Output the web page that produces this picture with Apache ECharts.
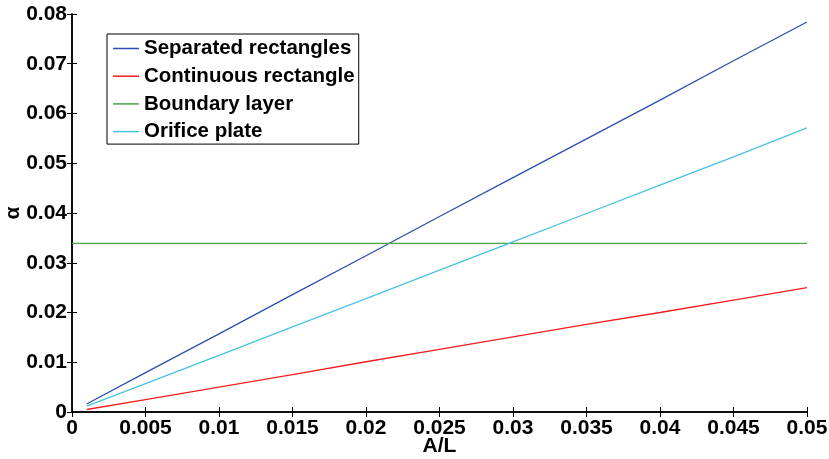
<!DOCTYPE html>
<html><head><meta charset="utf-8">
<script src="https://cdn.jsdelivr.net/npm/echarts@6/dist/echarts.min.js"></script>
<style>html,body{margin:0;padding:0;background:#fff}#c{width:829px;height:459px}</style>
</head><body><div id="c"></div>
<script>
const xVals = [0.001, 0.005, 0.01, 0.015, 0.02, 0.025, 0.03, 0.035, 0.04, 0.045, 0.05];
const separated = [0.0016, 0.0079, 0.0157, 0.0236, 0.0314, 0.0393, 0.0471, 0.0549, 0.0627, 0.0706, 0.0784];
const continuous = [0.0005, 0.0025, 0.0050, 0.0075, 0.0101, 0.0126, 0.0151, 0.0176, 0.0200, 0.0225, 0.0250];
const boundaryX = [0, 0.05];
const boundary = [0.0339, 0.0339];
const orifice = [0.0012, 0.0057, 0.0114, 0.0171, 0.0228, 0.0285, 0.0342, 0.0399, 0.0456, 0.0513, 0.0571];
const seriesNames = ['Separated rectangles', 'Continuous rectangle', 'Boundary layer', 'Orifice plate'];
const colors = ['#2e4fae', '#f21d1d', '#4aa54a', '#46c3df'];

const pair = (xs, ys) => xs.map((x, i) => [x, ys[i]]);
const font = 'Liberation Sans, Arial, sans-serif';
const lbl = {fontFamily: font, fontWeight: 'bold', fontSize: 21, color: '#000'};
const axLine = {show: true, lineStyle: {color: '#000', width: 1.5}};
const tick = {show: true, inside: true, length: 5, lineStyle: {color: '#000', width: 1}};

const chart = echarts.init(document.getElementById('c'), null, {renderer: 'canvas'});
chart.setOption({
  animation: false,
  backgroundColor: '#fff',
  grid: {left: 72, right: 22, top: 14, bottom: 47, containLabel: false, outerBoundsMode: 'none'},
  xAxis: [
    {type: 'value', min: 0, max: 0.05, interval: 0.005, position: 'bottom',
     axisLine: axLine, axisTick: tick, splitLine: {show: false},
     axisLabel: Object.assign({margin: 6, formatter: v => String(+v.toFixed(3))}, lbl),
     name: 'A/L', nameLocation: 'middle', nameGap: 24, nameMoveOverlap: false, nameTextStyle: lbl},
    {type: 'value', min: 0, max: 0.05, interval: 0.005, position: 'top',
     axisLine: axLine, axisTick: tick, splitLine: {show: false}, axisLabel: {show: false}}
  ],
  yAxis: [
    {type: 'value', min: 0, max: 0.08, interval: 0.01, position: 'left',
     axisLine: axLine, axisTick: tick, splitLine: {show: false},
     axisLabel: Object.assign({margin: 5, formatter: v => String(+v.toFixed(2))}, lbl),
     name: 'α', nameLocation: 'middle', nameGap: 48, nameRotate: 90, nameMoveOverlap: false, nameTextStyle: lbl},
    {type: 'value', min: 0, max: 0.08, interval: 0.01, position: 'right',
     axisLine: axLine, axisTick: tick, splitLine: {show: false}, axisLabel: {show: false}}
  ],
  legend: {
    orient: 'vertical', left: 107, top: 34,
    data: seriesNames.map(n => ({name: n, icon: 'rect'})),
    itemWidth: 26, itemHeight: 1.5, itemGap: 6.7,
    padding: [4, 4, 2, 6],
    borderColor: '#000', borderWidth: 1, backgroundColor: '#fff',
    textStyle: {fontFamily: font, fontWeight: 'bold', fontSize: 20.5, lineHeight: 20, color: '#000'}
  },
  series: [
    {name: seriesNames[0], type: 'line', data: pair(xVals, separated)},
    {name: seriesNames[1], type: 'line', data: pair(xVals, continuous)},
    {name: seriesNames[2], type: 'line', data: pair(boundaryX, boundary)},
    {name: seriesNames[3], type: 'line', data: pair(xVals, orifice)}
  ].map((s, i) => Object.assign(s, {showSymbol: false, symbol: 'none', color: colors[i],
      lineStyle: {color: colors[i], width: 1.3}, z: 2}))
});
</script></body></html>
